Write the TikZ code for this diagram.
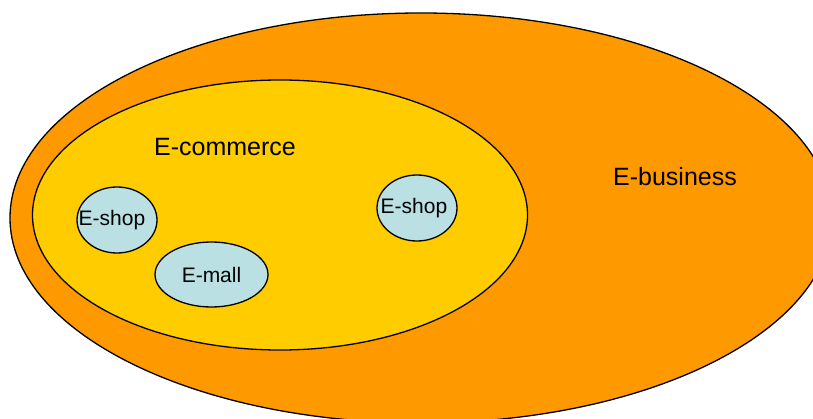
\documentclass[tikz,border=0pt]{standalone}
\usepackage{fontspec}
\setmainfont{Liberation Sans}
\usetikzlibrary{shapes.geometric}

\definecolor{outerorange}{RGB}{255,153,0}
\definecolor{inneryellow}{RGB}{255,204,0}
\definecolor{shopblue}{RGB}{187,224,227}

\begin{document}
\begin{tikzpicture}[x=1pt,y=-1pt,
    area/.style={ellipse,draw=black,line width=1.3pt,inner sep=0pt},
    shop/.style={area,fill=shopblue,font=\fontsize{21}{25}\selectfont},
    big/.style={font=\fontsize{25}{30}\selectfont}]
          \useasboundingbox (0,0) rectangle (813,419);
          \clip (0,0) rectangle (813,419);
          \node[area,fill=outerorange,minimum width=822,minimum height=410] (business) at (421,218) {};
          \node[area,fill=inneryellow,minimum width=495,minimum height=270] (commerce) at (280,215) {};
          \node[big] (ecommerce) at (225,147) {E-commerce};
          \node[big] (ebusiness) at (675,177) {E-business};
          \node[shop,minimum width=80,minimum height=66] (shopA) at (117,220) {\makebox[0pt]{\hspace*{-10pt}E-shop}};
          \node[shop,minimum width=113,minimum height=65] (mall) at (211.5,274.5) {\makebox[0pt]{E-mall}};
          \node[shop,minimum width=80,minimum height=66] (shopB) at (417,208) {\makebox[0pt]{\hspace*{-6pt}E-shop}};
        \end{tikzpicture}
\end{document}
